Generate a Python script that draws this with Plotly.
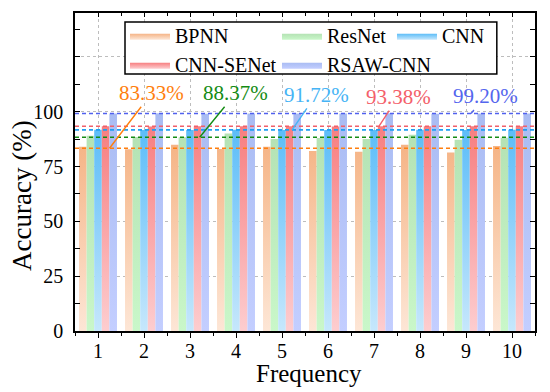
import plotly.graph_objects as go

# ---------------- data ----------------
frequency = [1, 2, 3, 4, 5, 6, 7, 8, 9, 10]
series_names = ["BPNN", "ResNet", "CNN", "CNN-SENet", "RSAW-CNN"]
bpnn = [84.0, 82.9, 84.9, 83.0, 84.0, 82.1, 81.7, 84.9, 81.4, 84.4]
resnet = [89.0, 88.5, 88.4, 90.0, 87.5, 88.0, 87.5, 89.5, 87.2, 88.1]
cnn = [91.8, 91.6, 91.7, 91.8, 91.7, 91.7, 91.6, 91.8, 91.7, 91.8]
cnn_senet = [93.4, 93.3, 93.4, 93.4, 93.4, 93.3, 93.4, 93.4, 93.4, 93.4]
rsaw_cnn = [99.2, 99.3, 99.1, 99.2, 99.2, 99.2, 99.3, 99.1, 99.2, 99.2]
mean_acc = [83.33, 88.37, 91.72, 93.38, 99.20]
mean_labels = ["83.33%", "88.37%", "91.72%", "93.38%", "99.20%"]
y_tick_vals = [0, 25, 50, 75, 100, 125]
y_tick_text = ["0", "25", "50", "75", "100", ""]

# ---------------- styles ----------------
top_colors = ["#F5B486", "#B4E2B4", "#5CBDF8", "#F77E80", "#A9BCF3"]
bottom_colors = ["#FDE6D6", "#C9F7C9", "#C6E7FC", "#FDCDCF", "#C3CEFF"]
line_colors = ["#FF7F0E", "#148C14", "#1E9EF2", "#F0606A", "#5060EE"]
label_colors = ["#FF7F0E", "#148C14", "#46B4F5", "#F4606A", "#5466EE"]
legend_of = ["legend", "legend2", "legend3", "legend", "legend2"]
# callout anchor (x in data units) and text offsets (px)
callout_x = [1.25, 3.21, 5.22, 7.11, 9.11]
callout_ax = [42, 36, 24, 19, 14]
callout_ay = [-55, -44, -35, -29, -17]

bar_w = 0.165
series_vals = [bpnn, resnet, cnn, cnn_senet, rsaw_cnn]

fig = go.Figure()
for k, (name, vals) in enumerate(zip(series_names, series_vals)):
    off = (k - 2) * bar_w
    xs, ys = [], []
    for f, v in zip(frequency, vals):
        x0 = f + off - bar_w / 2
        x1 = f + off + bar_w / 2
        xs += [x0, x0, x1, x1, x0, None]
        ys += [0, v, v, 0, 0, None]
    fig.add_trace(go.Scatter(
        x=xs, y=ys, mode="lines", line=dict(width=0, color=top_colors[k]),
        fill="toself",
        fillgradient=dict(type="vertical",
                          colorscale=[[0, bottom_colors[k]], [1, top_colors[k]]],
                          start=0, stop=max(vals)),
        name=name, hoveron="fills", legend=legend_of[k],
    ))

# dummy trace for top axis
fig.add_trace(go.Scatter(x=[None], y=[None], xaxis="x2", showlegend=False, hoverinfo="skip"))

shapes = [dict(type="rect", xref="paper", yref="paper", x0=0.1087, x1=0.917, y0=0.808, y1=0.972,
               line=dict(color="black", width=1.5), fillcolor="white", layer="above")]
for m, c in zip(mean_acc, line_colors):
    shapes.append(dict(type="line", xref="paper", x0=0, x1=1, yref="y", y0=m, y1=m,
                       line=dict(color=c, width=1.6, dash="4px,3px"), layer="above"))

annotations = []
for m, lab, c, cx, ax, ay in zip(mean_acc, mean_labels, label_colors, callout_x, callout_ax, callout_ay):
    annotations.append(dict(x=cx, y=m, xref="x", yref="y", text=lab, showarrow=True,
                            arrowhead=0, arrowwidth=1.4, arrowcolor=c, ax=ax, ay=ay,
                            font=dict(size=21, color=c, family="Liberation Serif")))
annotations.append(dict(text="Accuracy (%)", textangle=-90, xref="paper", yref="paper",
                        x=-0.115, y=0.425, xanchor="center", yanchor="middle", showarrow=False,
                        font=dict(size=27, family="Liberation Serif", color="black")))
annotations.append(dict(text="Frequency", xref="paper", yref="paper",
                        x=0.509, y=-0.133, xanchor="center", yanchor="middle", showarrow=False,
                        font=dict(size=25, family="Liberation Serif", color="black")))

leg_common = dict(orientation="v", xanchor="left", yanchor="top", borderwidth=0,
                  bgcolor="rgba(0,0,0,0)", itemwidth=40, font=dict(size=20),
                  tracegroupgap=0, y=0.99)

fig.update_layout(
    width=550, height=392,
    margin=dict(l=75, r=15, t=13, b=61),
    plot_bgcolor="white", paper_bgcolor="white",
    font=dict(family="Liberation Serif", size=20, color="black"),
    shapes=shapes, annotations=annotations,
    legend=dict(x=0.1087, **leg_common),
    legend2=dict(x=0.4391, **leg_common),
    legend3=dict(x=0.6891, **leg_common),
    xaxis=dict(range=[0.5, 10.5], tickmode="linear", tick0=1, dtick=1,
               ticks="outside", ticklen=5, tickwidth=1.3, tickcolor="black",
               minor=dict(tick0=0, dtick=0.5, ticks="outside", ticklen=3, tickwidth=1.3,
                          tickcolor="black", showgrid=False),
               showline=True, linecolor="black", linewidth=1.6, mirror=True,
               showgrid=True, gridcolor="#BDBDBD", griddash="dot", gridwidth=1,
               zeroline=False, automargin=False, ticklabelstandoff=-4),
    xaxis2=dict(range=[0.5, 10.5], overlaying="x", side="top", anchor="y",
                tickmode="linear", tick0=1, dtick=1, ticks="inside", ticklen=4,
                tickwidth=1.3, tickcolor="black", showticklabels=False,
                minor=dict(tick0=0, dtick=0.5, ticks="inside", ticklen=3, tickwidth=1.3,
                           tickcolor="black", showgrid=False),
                showgrid=False, showline=False, zeroline=False),
    yaxis=dict(range=[0, 145], tickmode="array", tickvals=y_tick_vals, ticktext=y_tick_text,
               ticks="inside", ticklen=5, tickwidth=1.3, tickcolor="black",
               minor=dict(tick0=0, dtick=12.5, ticks="inside", ticklen=3, tickwidth=1.3,
                          tickcolor="black", showgrid=False),
               showline=True, linecolor="black", linewidth=1.6, mirror="allticks",
               showgrid=True, gridcolor="#BDBDBD", griddash="dot", gridwidth=1,
               zeroline=False, ticklabelstandoff=6, automargin=False),
)

fig.write_html("out.html", config={"displayModeBar": False},
               post_script="document.body.style.margin='0';")
